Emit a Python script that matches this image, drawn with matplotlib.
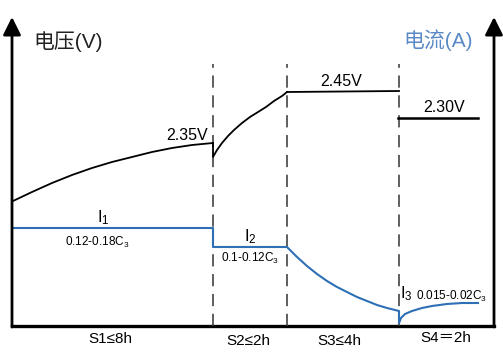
import matplotlib
matplotlib.use("Agg")
import matplotlib.pyplot as plt

plt.rcParams['font.family'] = ['Liberation Sans', 'Noto Sans CJK SC']
plt.rcParams['mathtext.fontset'] = 'custom'
plt.rcParams['mathtext.rm'] = 'Liberation Sans'
plt.rcParams['mathtext.it'] = 'Liberation Sans'

# ---- schematic data (x: schematic time units, y: schematic height units) ----
stage_edges = [0, 201, 275, 387, 482]
stage_labels = ["S1≤8h", "S2≤2h", "S3≤4h", "S4＝2h"]

# voltage curve (black)
v_s1_x = [1, 20, 40, 60, 80, 100, 120, 140, 160, 180, 201]
v_s1_y = [125, 134, 143, 151, 158, 164, 169, 174, 178, 181, 183]
v_s2_x = [201, 201, 205, 210, 216, 222, 230, 238, 246, 254, 262, 270, 275]
v_s2_y = [183, 169, 176, 183, 190, 196, 203, 209, 214, 219, 225, 230, 234]
v_s3_x = [275, 387]
v_s3_y = [234, 235]
v_s4_x = [386, 466]
v_s4_y = [208, 208]

# current curve (blue)
i_x = [0, 201, 201, 275, 285, 295, 305, 315, 325, 335, 345, 355, 365, 375, 387,
       387, 389, 393, 400, 410, 420, 435, 450, 466]
i_y = [98, 98, 79, 79, 69, 60, 52, 45, 39, 34, 29, 25, 21, 18, 15,
       3, 8, 12, 15, 18, 20, 22, 23, 23]

voltage_labels = ["2.35V", "2.45V", "2.30V"]
current_labels = [r"I$_1$", r"I$_2$", r"I$_3$"]
current_ranges = [r"0.12-0.18C$_3$", r"0.1-0.12C$_3$", r"0.015-0.02C$_3$"]

fig = plt.figure(figsize=(5.03, 3.54), dpi=100)
ax = fig.add_axes([12 / 503, 28 / 354, 482 / 503, 308 / 354])
ax.set_xlim(0, 482)
ax.set_ylim(0, 308)
ax.axis('off')

blue = '#2E6FB5'

# axes with arrows
arrow_kw = dict(arrowstyle='-|>,head_length=0.9,head_width=0.45', lw=2.0,
                color='black', shrinkA=0, shrinkB=0, mutation_scale=12)
ax.annotate('', xy=(0, 309), xytext=(0, -1), arrowprops=arrow_kw, annotation_clip=False)
ax.annotate('', xy=(482, 309), xytext=(482, -1), arrowprops=arrow_kw, annotation_clip=False)
ax.plot([0, 482], [0, 0], color='black', lw=2.4, clip_on=False, solid_capstyle='projecting')

# dashed stage separators
for xe in stage_edges[1:4]:
    ax.plot([xe, xe], [0, 262], color='#333333', lw=1.1, ls=(0, (8, 5)))

# voltage
ax.plot(v_s1_x, v_s1_y, color='black', lw=1.3)
ax.plot(v_s2_x, v_s2_y, color='black', lw=1.3)
ax.plot(v_s3_x, v_s3_y, color='black', lw=1.3)
ax.plot(v_s4_x, v_s4_y, color='black', lw=1.8)

# current
ax.plot(i_x, i_y, color=blue, lw=1.5)

# axis titles
ax.text(21, 284, "电压(V)", fontsize=15, color='#222222', ha='left', va='center')
ax.text(391, 286, "电流(A)", fontsize=15, color='#5A8AC6', ha='left', va='center')

# voltage labels
ax.text(175, 190, voltage_labels[0], fontsize=11.5, ha='center', va='center')
ax.text(329, 245, voltage_labels[1], fontsize=11.5, ha='center', va='center')
ax.text(432, 218, voltage_labels[2], fontsize=11.5, ha='center', va='center')

# current labels
ax.text(91, 108, current_labels[0], fontsize=12, ha='center', va='center')
ax.text(85, 84, current_ranges[0], fontsize=8.5, ha='center', va='center')
ax.text(238, 89, current_labels[1], fontsize=12, ha='center', va='center')
ax.text(238, 68, current_ranges[1], fontsize=8.5, ha='center', va='center')
ax.text(388, 32, current_labels[2], fontsize=12, ha='left', va='center')
ax.text(404, 30, current_ranges[2], fontsize=8.5, ha='left', va='center')

# stage labels
label_x = [98, 236, 327, 434]
label_y = [-13, -15, -15, -12]
for lx, ly, s in zip(label_x, label_y, stage_labels):
    ax.text(lx, ly, s, fontsize=11, ha='center', va='center', clip_on=False)

fig.savefig("out.png", dpi=100)
